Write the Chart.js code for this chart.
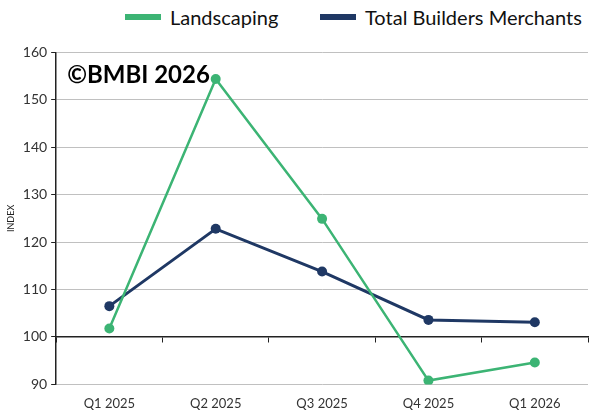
<!DOCTYPE html>
<html>
<head>
<meta charset="utf-8">
<script src="https://cdn.jsdelivr.net/npm/chart.js@4"></script>
<style>
  html, body { margin: 0; padding: 0; background: #fff; }
  #wrap { width: 593px; height: 410px; position: relative; font-family: Lato, 'Open Sans', sans-serif; }
  #legend { position: absolute; left: 0; top: 0; width: 593px; height: 36px; }
  .item { position: absolute; top: 4px; display: flex; align-items: center; font-size: 20px; color: #111; line-height: 26px; }
  .sw { width: 36px; height: 6px; margin-right: 9px; }
  #chartBox { position: absolute; left: 0; top: 40px; width: 593px; height: 370px; }
</style>
</head>
<body>
<div id="wrap">
  <div id="legend"></div>
  <div id="chartBox"><canvas id="c"></canvas></div>
</div>
<script>
const quarters = ['Q1 2025', 'Q2 2025', 'Q3 2025', 'Q4 2025', 'Q1 2026'];
const landscaping = [101.8, 154.4, 124.9, 90.8, 94.6];
const totalMerchants = [106.5, 122.8, 113.8, 103.6, 103.1];
const yTicks = [90, 100, 110, 120, 130, 140, 150, 160];

const green = '#3cb474';
const navy = '#1f3864';
const font = "Lato, 'Open Sans', sans-serif";

// watermark text in the top-left of the plot
const watermark = {
  id: 'watermark',
  afterDatasetsDraw(chart) {
    const ctx = chart.ctx, a = chart.chartArea;
    ctx.save();
    ctx.font = "bold 24px " + font;
    ctx.fillStyle = '#000';
    ctx.textBaseline = 'middle';
    ctx.fillText('\u00A9BMBI 2026', a.left + 11, a.top + 23);
    ctx.restore();
  }
};

const chart = new Chart(document.getElementById('c'), {
  type: 'line',
  data: {
    labels: quarters,
    datasets: [
      {
        label: 'Landscaping',
        data: landscaping,
        borderColor: green,
        backgroundColor: green,
        borderWidth: 2.5,
        pointRadius: 5,
        pointBorderWidth: 0,
        pointBackgroundColor: green,
        tension: 0
      },
      {
        label: 'Total Builders Merchants',
        data: totalMerchants,
        borderColor: navy,
        backgroundColor: navy,
        borderWidth: 3,
        pointRadius: 5,
        pointBorderWidth: 0,
        pointBackgroundColor: navy,
        tension: 0
      }
    ]
  },
  options: {
    responsive: true,
    maintainAspectRatio: false,
    animation: false,
    layout: { padding: { left: 2, right: 0, top: 8, bottom: -6 } },
    plugins: {
      legend: { display: false },
      tooltip: { enabled: false }
    },
    scales: {
      x: {
        type: 'category',
        offset: true,
        grid: { display: false },
        border: { display: false },
        ticks: { color: '#333', font: { family: font, size: 13 }, padding: 4, maxRotation: 0 }
      },
      x100: {
        type: 'category',
        labels: quarters,
        position: { y: 100 },
        offset: true,
        grid: { offset: true, drawOnChartArea: false, tickLength: 5, tickColor: '#222', lineWidth: 1 },
        border: { display: true, color: '#222', width: 1.5 },
        ticks: { display: false }
      },
      y: {
        min: 90,
        max: 160,
        afterBuildTicks(scale) { scale.ticks = yTicks.map(v => ({ value: v })); },
        grid: { color: '#c0c0c0', lineWidth: 1, tickLength: 5, tickColor: '#222' },
        border: { display: true, color: '#222', width: 1.5 },
        ticks: { color: '#333', font: { family: font, size: 14 }, padding: 4 },
        title: { display: true, text: 'INDEX', color: '#222', font: { family: font, size: 9 }, padding: { top: 4, bottom: 2 } }
      }
    }
  },
  plugins: [watermark]
});

// legend built from the datasets
const legendLeft = [125, 320];
const legend = document.getElementById('legend');
chart.data.datasets.forEach((ds, i) => {
  const item = document.createElement('div');
  item.className = 'item';
  item.style.left = legendLeft[i] + 'px';
  const sw = document.createElement('span');
  sw.className = 'sw';
  sw.style.background = ds.borderColor;
  const txt = document.createElement('span');
  txt.textContent = ds.label;
  item.appendChild(sw);
  item.appendChild(txt);
  legend.appendChild(item);
});
</script>
</body>
</html>
